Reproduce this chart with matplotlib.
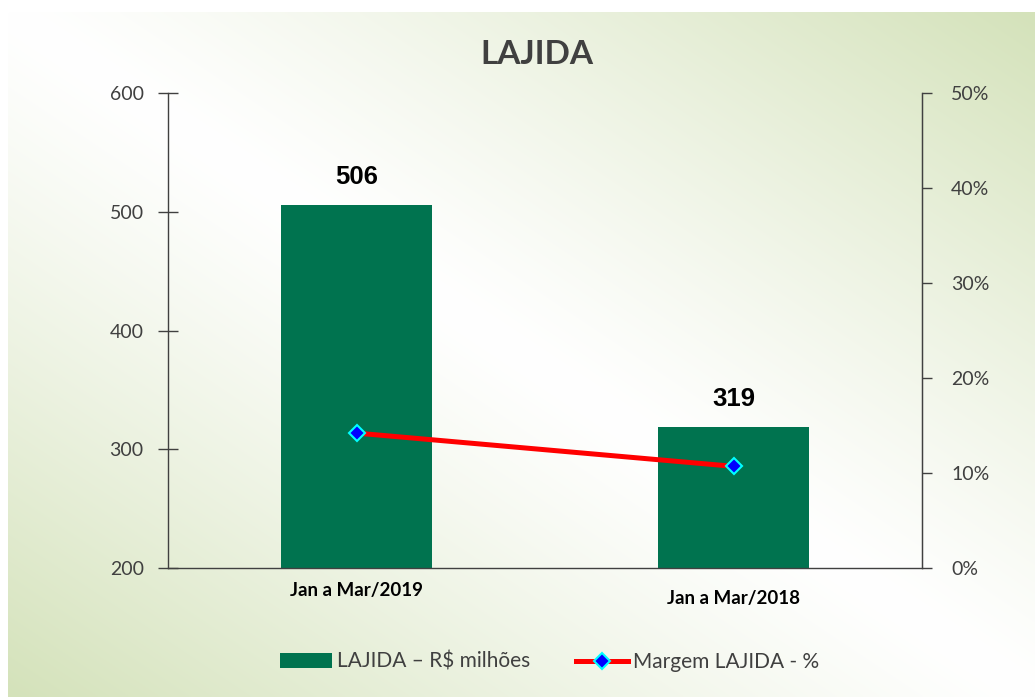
import numpy as np
import matplotlib
matplotlib.use('Agg')
import matplotlib.pyplot as plt
from matplotlib.transforms import ScaledTranslation
from matplotlib.lines import Line2D
from matplotlib.patches import Patch

categories = ['Jan a Mar/2019', 'Jan a Mar/2018']
lajida = [506, 319]
margem = [14.2, 10.7]
left_ticks = [200, 300, 400, 500, 600]
right_ticks = [0, 10, 20, 30, 40, 50]
title = 'LAJIDA'
bar_label = 'LAJIDA – R$ milhões'
line_label = 'Margem LAJIDA - %'

plt.rcParams['font.family'] = ['Lato', 'DejaVu Sans']

W, H = 1035, 697
fig = plt.figure(figsize=(W / 100, H / 100), dpi=100)
fig.patch.set_facecolor('white')

# reflected diagonal gradient background
bg = fig.add_axes([8 / W, 0, 1 - 8 / W, (H - 12) / H], zorder=-10)
nx, ny = 400, 300
u = np.linspace(0, 1, nx)[None, :]
v = np.linspace(0, 1, ny)[:, None]
t = np.clip(np.abs(u - v), 0, 1) ** 1.2
white = np.array([1.0, 1.0, 1.0])
green = np.array([212, 226, 186]) / 255
img = white[None, None, :] * (1 - t[..., None]) + green[None, None, :] * t[..., None]
bg.imshow(img, aspect='auto', interpolation='bilinear')
bg.axis('off')

spine_c = '#404040'
text_c = '#404040'
bar_c = '#00734F'

ax = fig.add_axes([168 / W, 1 - 568 / H, (922 - 168) / W, (568 - 93) / H])
ax.patch.set_alpha(0)
x = np.arange(len(categories))
ax.bar(x, lajida, width=0.4, color=bar_c, zorder=2)
ax.set_xlim(-0.5, 1.5)
ax.set_ylim(200, 600)
ax.set_yticks(left_ticks)
ax.set_xticks(x, categories)
for xi, val in zip(x, lajida):
    ax.annotate(str(val), (xi, val), xytext=(0, 11), textcoords='offset points',
                ha='center', va='bottom', fontsize=18.5, fontweight='bold',
                family=['Liberation Sans', 'DejaVu Sans'], color='black')

ax.tick_params(axis='y', direction='inout', length=15, width=1, color=spine_c,
               labelsize=14, labelcolor=text_c, pad=10)
ax.tick_params(axis='x', length=0, pad=10)
for lbl in ax.get_xticklabels():
    lbl.set_fontsize(13.5)
    lbl.set_fontweight('bold')
    lbl.set_color('black')
# second label sits slightly lower
xl = ax.get_xticklabels()
xl[1].set_transform(xl[1].get_transform() + ScaledTranslation(0, -8 / 100, fig.dpi_scale_trans))

ax.spines['top'].set_visible(False)
for s in ['left', 'bottom', 'right']:
    ax.spines[s].set_color(spine_c)
    ax.spines[s].set_linewidth(1)

ax2 = ax.twinx()
ax2.plot(x, margem, color='red', lw=3.6, marker='D', ms=8, mfc='blue', mec='cyan',
         mew=1.5, zorder=3, solid_capstyle='round')
ax2.set_ylim(0, 50)
ax2.set_yticks(right_ticks, [f'{r}%' for r in right_ticks])
ax2.tick_params(axis='y', direction='out', length=7, width=1, color=spine_c,
                labelsize=14, labelcolor=text_c, pad=14)
ax2.spines['top'].set_visible(False)
ax2.spines['left'].set_visible(False)
ax2.spines['bottom'].set_visible(False)
ax2.spines['right'].set_color(spine_c)

handles = [Patch(facecolor=bar_c, edgecolor='none'),
           Line2D([], [], color='red', lw=3.6, marker='D', ms=8, mfc='blue', mec='cyan', mew=1.5)]
fig.legend(handles, [bar_label, line_label], loc='center', bbox_to_anchor=(549.5 / W, 1 - 662 / H),
           ncol=2, frameon=False, fontsize=15, handlelength=2.5, handletextpad=0.25,
           columnspacing=2.2, labelcolor=text_c)

fig.text(537 / W, 1 - 55 / H, title, ha='center', va='center', fontsize=24,
         fontweight='bold', color=text_c)

fig.savefig('out.png', dpi=100)
